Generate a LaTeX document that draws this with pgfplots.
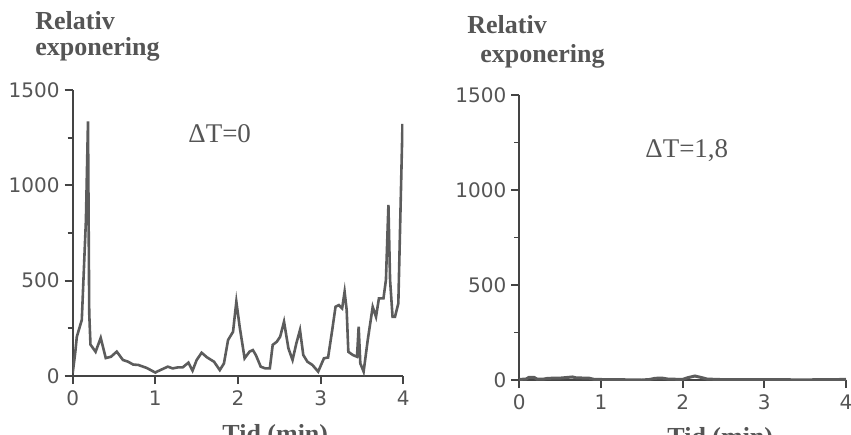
\documentclass[border=0pt]{standalone}
\usepackage{fontspec}
\setmainfont{Liberation Serif}
\newfontfamily\tickfont{DejaVu Sans}
\usepackage{pgfplots}
\pgfplotsset{compat=1.18}
\definecolor{axgray}{HTML}{444444}
\definecolor{linegray}{HTML}{5C5C5C}
\definecolor{txtgray}{HTML}{555555}

\pgfplotsset{
  panel/.style={
    scale only axis,
    axis lines*=left,
    xmin=0, xmax=4, ymin=0, ymax=1500,
    xtick={0,1,2,3,4}, xticklabels={0,1,2,3,4},
    ytick={0,500,1000,1500}, yticklabels={0,500,1000,1500},
    minor ytick={250,750,1250},
    tick align=outside,
    major tick length=4pt, minor tick length=2.5pt,
    axis line style={draw=axgray, line width=1pt},
    tick style={draw=axgray, line width=0.9pt},
    tick label style={font=\tickfont\fontsize{10}{12}\selectfont, text=txtgray},
    yticklabel style={xshift=1pt},
  },
}

\begin{document}
\begin{tikzpicture}
% picture is 851 x 434 px, 1 px = 0.5pt, origin at top left
\useasboundingbox (0pt,0pt) rectangle (425.5pt,-217pt);
\clip (0pt,0pt) rectangle (425.5pt,-217pt);

% left panel
\begin{axis}[panel, at={(36.35pt,-188pt)}, anchor=south west, width=165.3pt, height=143pt]
\addplot[linegray, line width=1.3pt] coordinates {
(0,15) (0.03,120) (0.05,206) (0.11,294) (0.16,818) (0.185,1335) (0.2,330)
(0.215,165) (0.277,127) (0.339,200) (0.40,94) (0.463,101) (0.533,128)
(0.608,84) (0.67,75) (0.732,60) (0.794,58) (0.897,42) (1.0,18) (1.02,23)
(1.08,35) (1.15,49) (1.21,40) (1.27,45) (1.33,45) (1.40,70) (1.45,28)
(1.50,84) (1.56,122) (1.625,98) (1.71,75) (1.78,31) (1.83,66) (1.88,189)
(1.94,232) (1.98,390) (2.02,259) (2.08,93) (2.14,128) (2.18,136) (2.216,110)
(2.275,49) (2.33,40) (2.385,40) (2.42,163) (2.47,180) (2.51,206) (2.557,285)
(2.61,145) (2.66,84) (2.706,171) (2.75,241) (2.79,110) (2.84,75) (2.90,58)
(2.97,23) (3.04,93) (3.09,97) (3.14,241) (3.18,363) (3.22,372) (3.26,355)
(3.29,442) (3.315,346) (3.335,127) (3.39,110) (3.44,101) (3.46,259) (3.48,66)
(3.52,23) (3.57,189) (3.63,363) (3.67,311) (3.705,407) (3.76,407) (3.79,504)
(3.82,897) (3.84,504) (3.87,311) (3.90,311) (3.94,381) (3.99,1316) (4.0,1316)
};
\end{axis}

% right panel
\begin{axis}[panel, at={(259.65pt,-190pt)}, anchor=south west, width=163.35pt, height=142.5pt]
\addplot[linegray, line width=1.5pt] coordinates {
(0,3) (0.08,5) (0.12,14) (0.18,14) (0.22,4) (0.3,5) (0.35,9) (0.5,10)
(0.6,14) (0.65,16) (0.7,11) (0.85,10) (0.92,3) (1.2,2) (1.5,0) (1.6,3)
(1.66,9) (1.75,10) (1.82,5) (2.0,3) (2.06,12) (2.15,21) (2.22,14) (2.3,5)
(2.5,2) (3,2) (3.5,1) (4,3)
};
\end{axis}

% titles and notes, placed in pixel units
\begin{scope}[x=0.5pt, y=-0.5pt, every node/.style={inner sep=0pt, text=txtgray}]
\node[anchor=base west, font=\bfseries\fontsize{13}{13}\selectfont] at (35,29) {Relativ};
\node[anchor=base west, font=\bfseries\fontsize{13}{13}\selectfont] at (35,55) {exponering};
\node[anchor=base west, font=\bfseries\fontsize{13}{13}\selectfont] at (467,33) {Relativ};
\node[anchor=base west, font=\bfseries\fontsize{13}{13}\selectfont] at (480,62) {exponering};
\node[anchor=base west, font=\fontsize{13.5}{14}\selectfont] at (188,142) {ΔT=0};
\node[anchor=base west, font=\fontsize{13.5}{14}\selectfont] at (645,157) {ΔT=1,8};
\node[anchor=base west, font=\bfseries\fontsize{13}{13}\selectfont] at (222,442) {Tid (min)};
\node[anchor=base west, font=\bfseries\fontsize{13}{13}\selectfont] at (667,445) {Tid (min)};
\end{scope}
\end{tikzpicture}
\end{document}
